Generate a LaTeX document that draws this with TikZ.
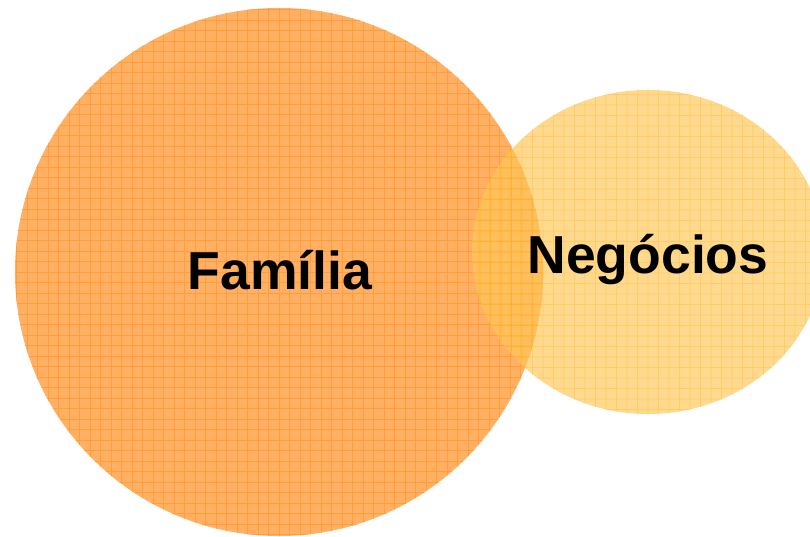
\documentclass[tikz,border=0pt]{standalone}
\usepackage{fontspec}
\setmainfont{Liberation Sans}
\usetikzlibrary{shapes.geometric}
\definecolor{famfill}{HTML}{FFB062}
\definecolor{famgrid}{HTML}{FF9E3A}
\definecolor{negfill}{HTML}{FFC757}
\definecolor{neggrid}{HTML}{FFB41F}
\tikzset{
  gridfill/.style={
    inner sep=0pt, outer sep=0pt, draw=none, fill=#1fill,
    path picture={
      \draw[#1grid, line width=0.8pt, step=10.5pt]
        ([shift={(-11pt,-11pt)}]path picture bounding box.south west)
        grid ([shift={(11pt,11pt)}]path picture bounding box.north east);
    }
  },
  bigword/.style={font=\bfseries\fontsize{53.5}{60}\selectfont, text=black, inner sep=0pt, anchor=base}
}
\begin{document}
\begin{tikzpicture}[x=1pt, y=1pt]
  \useasboundingbox (0,0) rectangle (810,536);
  % Family circle
  \node (familia) [circle, minimum size=528pt, gridfill=fam] at (279,264) {};
  % Business circle, translucent over the first
  \begin{scope}[transparency group, opacity=0.68]
    \node (negocios) [ellipse, minimum width=352pt, minimum height=324pt, gridfill=neg] at (648,284) {};
  \end{scope}
  \node (tfam) [bigword] at (280,247) {Família};
  \node (tneg) [bigword] at (648,263) {Negócios};
\end{tikzpicture}
\end{document}
